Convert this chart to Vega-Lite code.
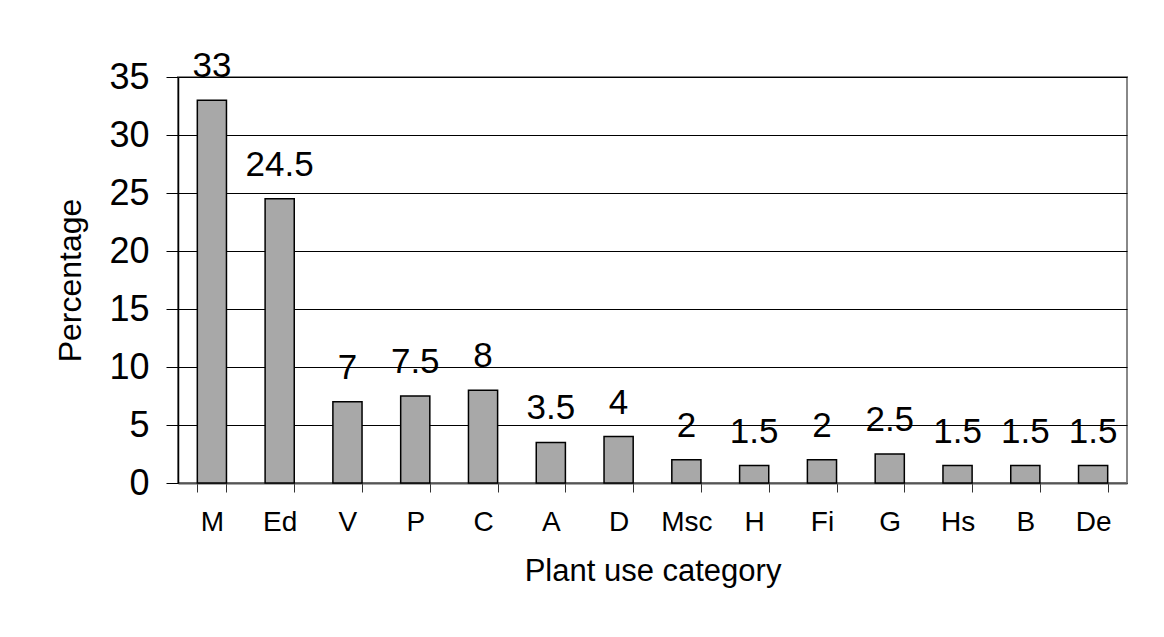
{
  "$schema": "https://vega.github.io/schema/vega-lite/v6.json",
  "width": 949,
  "height": 406,
  "autosize": {"type": "none"},
  "padding": {"left": 178, "top": 77, "right": 37, "bottom": 154},
  "background": "white",
  "config": {
    "font": "Liberation Sans",
    "view": {"stroke": "#888888", "strokeWidth": 2},
    "axis": {"labelFont": "Liberation Sans", "titleFont": "Liberation Sans", "labelColor": "black", "titleColor": "black", "titleFontWeight": "normal"}
  },
  "data": {
    "values": [
      {"category": "M", "percentage": 33},
      {"category": "Ed", "percentage": 24.5},
      {"category": "V", "percentage": 7},
      {"category": "P", "percentage": 7.5},
      {"category": "C", "percentage": 8},
      {"category": "A", "percentage": 3.5},
      {"category": "D", "percentage": 4},
      {"category": "Msc", "percentage": 2},
      {"category": "H", "percentage": 1.5},
      {"category": "Fi", "percentage": 2},
      {"category": "G", "percentage": 2.5},
      {"category": "Hs", "percentage": 1.5},
      {"category": "B", "percentage": 1.5},
      {"category": "De", "percentage": 1.5}
    ]
  },
  "encoding": {
    "x": {
      "field": "category",
      "type": "nominal",
      "sort": null,
      "scale": {"paddingInner": 0.57, "paddingOuter": 0.285},
      "axis": {
        "title": "Plant use category",
        "titleFontSize": 31,
        "titlePadding": 20,
        "labelFontSize": 28,
        "labelAngle": 0,
        "labelPadding": 16,
        "tickBand": "extent",
        "tickSize": 9,
        "tickColor": "#333333",
        "domainColor": "#555555",
        "domainWidth": 2,
        "grid": false
      }
    },
    "y": {
      "field": "percentage",
      "type": "quantitative",
      "scale": {"domain": [0, 35], "nice": false},
      "axis": {
        "title": "Percentage",
        "titleFontSize": 32,
        "titlePadding": 21,
        "labelFontSize": 36,
        "labelPadding": 17,
        "values": [0, 5, 10, 15, 20, 25, 30, 35],
        "tickSize": 12,
        "tickColor": "black",
        "domainColor": "black",
        "domainWidth": 1.5,
        "grid": true,
        "gridColor": "black",
        "gridWidth": 1,
        "gridOpacity": 1
      }
    }
  },
  "layer": [
    {
      "mark": {"type": "bar", "fill": "#a8a8a8", "stroke": "black", "strokeWidth": 1.5}
    },
    {
      "mark": {"type": "text", "fontSize": 35, "baseline": "alphabetic", "dy": -23, "color": "black"},
      "encoding": {"text": {"field": "percentage", "type": "quantitative"}}
    }
  ]
}
